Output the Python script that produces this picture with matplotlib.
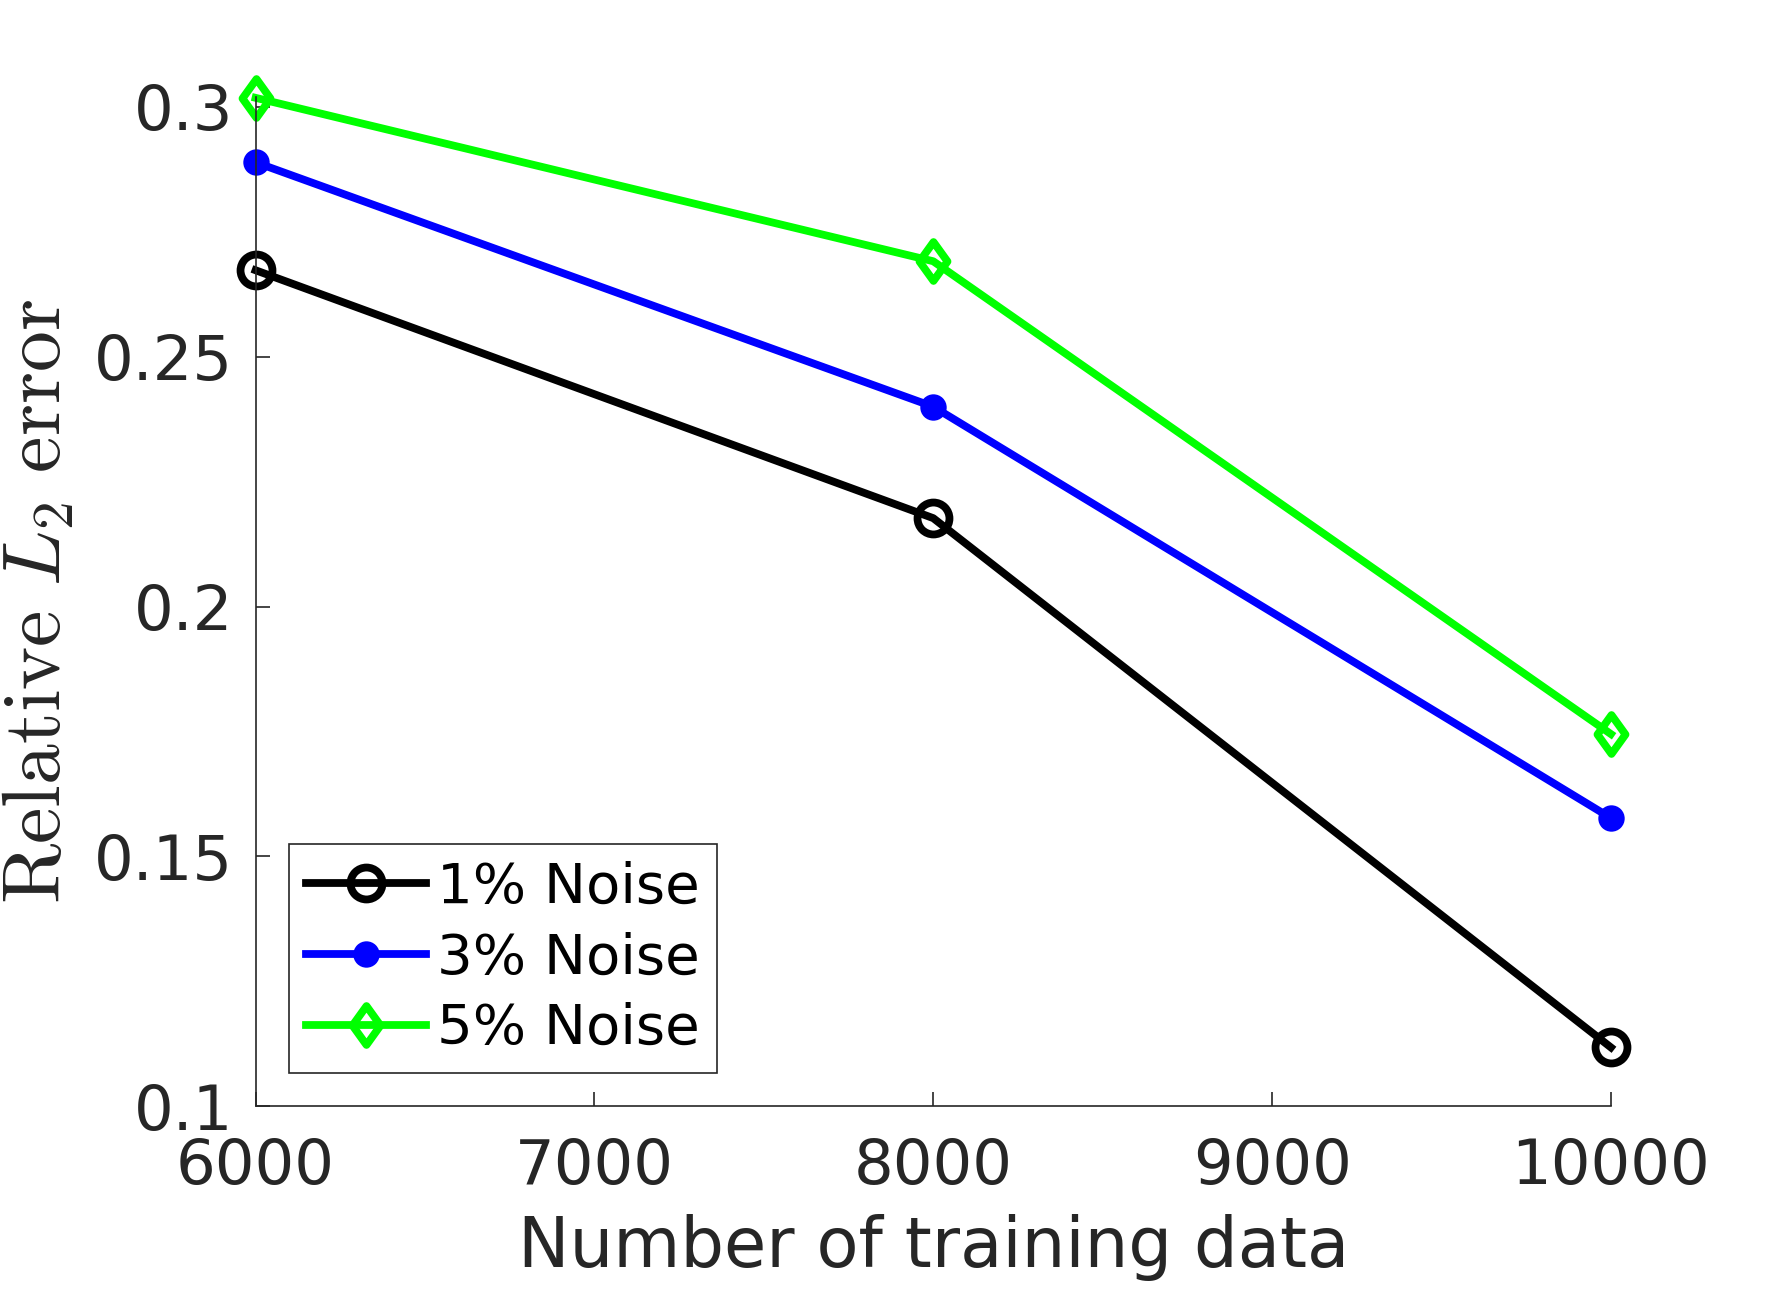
import numpy as np
import matplotlib
matplotlib.use("Agg")
import matplotlib.pyplot as plt
from matplotlib.ticker import FuncFormatter
from matplotlib.path import Path

# data
train_sizes = [6000, 8000, 10000]
err_1pct = [0.2673, 0.2177, 0.1118]
err_3pct = [0.2889, 0.2400, 0.1577]
err_5pct = [0.3018, 0.2691, 0.1745]
labels = ["1% Noise", "3% Noise", "5% Noise"]

plt.rcParams['mathtext.fontset'] = 'cm'
plt.rcParams['font.family'] = 'DejaVu Sans'

dark = '#262626'

# MATLAB-like diamond (a bit taller than wide)
diamond = Path([(0, 1), (0.72, 0), (0, -1), (-0.72, 0), (0, 1)],
               [Path.MOVETO, Path.LINETO, Path.LINETO, Path.LINETO, Path.CLOSEPOLY])

fig = plt.figure(figsize=(8.905, 6.455), dpi=200)
ax = fig.add_axes([0.1435, 0.143, 0.761, 0.782])

ax.plot(train_sizes, err_1pct, color='black', lw=2.8, marker='o', ms=11.5,
        mfc='none', mew=2.8, label=labels[0], clip_on=False)
ax.plot(train_sizes, err_3pct, color='#0000ff', lw=2.8, marker='o', ms=8.5,
        mfc='#0000ff', mec='#0000ff', label=labels[1], clip_on=False)
ax.plot(train_sizes, err_5pct, color='#00ff00', lw=2.8, marker=diamond, ms=14,
        mfc='none', mew=2.8, label=labels[2], clip_on=False)

ax.set_xlim(6000, 10000)
ax.set_ylim(0.1, 0.302)
ax.set_xticks([6000, 7000, 8000, 9000, 10000])
ax.set_yticks([0.1, 0.15, 0.2, 0.25, 0.3])
ax.yaxis.set_major_formatter(FuncFormatter(lambda v, p: f"{v:g}"))

for s in ['top', 'right']:
    ax.spines[s].set_visible(False)
for s in ['left', 'bottom']:
    ax.spines[s].set_color(dark)
    ax.spines[s].set_linewidth(0.6)

ax.tick_params(direction='in', length=5, width=0.6, color=dark,
               labelcolor=dark, labelsize=22.5)
ax.tick_params(axis='x', pad=11)
ax.tick_params(axis='y', pad=8)

ax.set_xlabel("Number of training data", fontsize=24.8, color=dark, labelpad=6)
ax.set_ylabel(r"$\mathrm{Relative}\ L_2\ \mathrm{error}$", fontsize=29.5, color=dark,
              labelpad=6)

leg = ax.legend(loc='lower left', bbox_to_anchor=(0.025, 0.033), fontsize=20.2,
                fancybox=False, framealpha=1, edgecolor=dark, handlelength=2.13,
                handletextpad=0.2, borderpad=0.3, labelspacing=0.3,
                borderaxespad=0)
leg.get_frame().set_linewidth(0.6)

fig.savefig("out.png", dpi=200)
